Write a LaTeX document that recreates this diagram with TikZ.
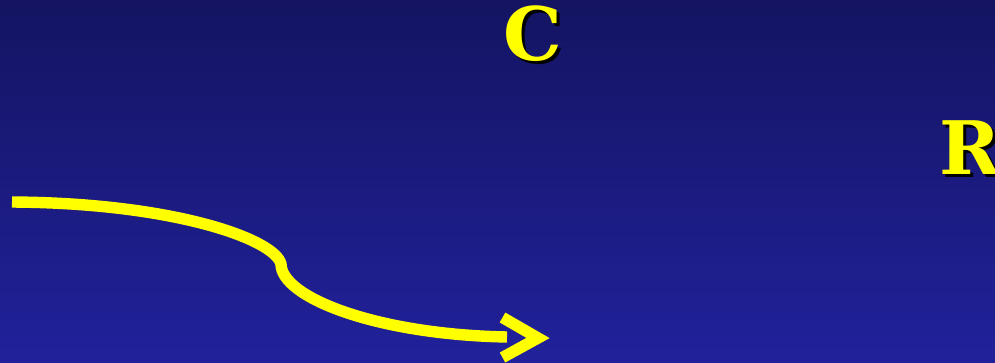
\documentclass[tikz,border=0pt]{standalone}
\usepackage{fontspec}
\setmainfont{DejaVu Serif}
\usepackage{xcolor}
\usepackage{tikz}
\usetikzlibrary{calc}
\definecolor{bgtop}{RGB}{20, 20, 98}
\definecolor{bgbottom}{RGB}{33, 33, 155}
\definecolor{signal}{RGB}{255, 255, 0}

\tikzset{
  letter/.style={inner sep=0pt, font=\fontsize{42}{42}\selectfont\bfseries, text=signal},
  lettershadow/.style={letter, text=black},
  pathline/.style={signal, line width=6.5pt}
}

\begin{document}
\begin{tikzpicture}
  % Background
  \useasboundingbox (0,0) rectangle (19.9,7.24);
  \clip (0,0) rectangle (19.9,7.24);
  \shade[top color=bgtop, bottom color=bgbottom] (0,0) rectangle (19.9,7.24);

  % Letters with shadow
  \node[lettershadow, anchor=base] (Cs) at (10.72,5.96) {C};
  \node[letter, anchor=base] (C) at (10.66,6.02) {C};
  \node[lettershadow, anchor=base west] (Rs) at (18.84,3.70) {R};
  \node[letter, anchor=base west] (R) at (18.78,3.76) {R};

  % Curved path and open arrowhead
  \coordinate (start) at (0.24,3.20);
  \coordinate (bend) at (5.62,1.96);
  \coordinate (stop) at (10.14,0.50);
  \draw[pathline] (start) .. controls (3.5,3.18) and (5.5,2.45) .. (bend)
    .. controls (5.62,1.30) and (7.5,0.55) .. (stop);
  \draw[pathline, line join=miter] (10.05,0.89) -- (10.76,0.48) -- (10.05,0.09);
\end{tikzpicture}
\end{document}
